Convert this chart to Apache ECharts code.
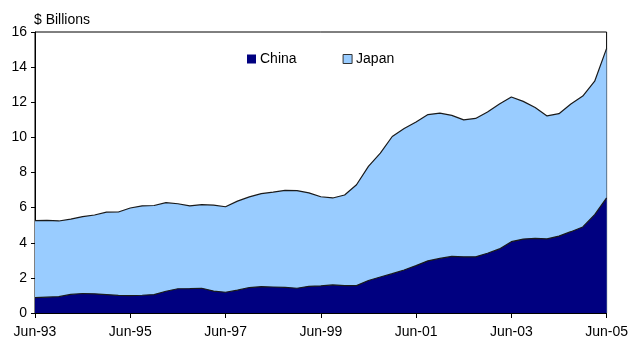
<!DOCTYPE html>
<html>
<head>
<meta charset="utf-8">
<script src="https://cdn.jsdelivr.net/npm/echarts@6/dist/echarts.min.js"></script>
<style>
  html, body { margin: 0; padding: 0; background: #fff; }
  #chart { width: 631px; height: 343px; }
</style>
</head>
<body>
<div id="chart"></div>
<script>
// Quarterly observations, Jun-93 through Jun-05
const periods = [
  'Jun-93','Sep-93','Dec-93','Mar-94','Jun-94','Sep-94','Dec-94','Mar-95',
  'Jun-95','Sep-95','Dec-95','Mar-96','Jun-96','Sep-96','Dec-96','Mar-97',
  'Jun-97','Sep-97','Dec-97','Mar-98','Jun-98','Sep-98','Dec-98','Mar-99',
  'Jun-99','Sep-99','Dec-99','Mar-00','Jun-00','Sep-00','Dec-00','Mar-01',
  'Jun-01','Sep-01','Dec-01','Mar-02','Jun-02','Sep-02','Dec-02','Mar-03',
  'Jun-03','Sep-03','Dec-03','Mar-04','Jun-04','Sep-04','Dec-04','Mar-05',
  'Jun-05'
];

// China ($ billions)
const china = [
  0.87, 0.90, 0.93, 1.06, 1.11, 1.09, 1.05, 1.00,
  0.99, 1.01, 1.05, 1.24, 1.38, 1.39, 1.41, 1.25,
  1.18, 1.30, 1.45, 1.50, 1.48, 1.46, 1.41, 1.52,
  1.54, 1.60, 1.56, 1.56, 1.85, 2.05, 2.24, 2.45,
  2.70, 2.97, 3.11, 3.22, 3.20, 3.20, 3.40, 3.65,
  4.06, 4.21, 4.25, 4.22, 4.38, 4.63, 4.90, 5.60,
  6.55
];

// Japan, drawn as the upper outline ($ billions)
const japan = [
  5.26, 5.27, 5.24, 5.35, 5.49, 5.58, 5.74, 5.75,
  5.98, 6.10, 6.12, 6.28, 6.22, 6.10, 6.17, 6.14,
  6.05, 6.37, 6.61, 6.80, 6.88, 6.98, 6.97, 6.84,
  6.62, 6.55, 6.72, 7.30, 8.35, 9.10, 10.05, 10.50,
  10.88, 11.30, 11.38, 11.25, 11.00, 11.08, 11.45, 11.90,
  12.30, 12.05, 11.70, 11.22, 11.35, 11.90, 12.35, 13.20,
  15.07
];

const FONT = '"Liberation Sans", Arial, sans-serif';

const chart = echarts.init(document.getElementById('chart'), null, { renderer: 'canvas' });

chart.setOption({
  animation: false,
  backgroundColor: '#ffffff',
  textStyle: { fontFamily: FONT },
  title: {
    text: '$ Billions',
    left: 29,
    top: 8,
    textStyle: { fontFamily: FONT, fontSize: 14, fontWeight: 'normal', color: '#000' }
  },
  legend: {
    top: 47,
    left: 242,
    itemGap: 46,
    itemWidth: 9,
    itemHeight: 9,
    icon: 'rect',
    textStyle: { fontFamily: FONT, fontSize: 14, color: '#000', padding: [0, 0, 0, -1] },
    data: [
      { name: 'China', itemStyle: { color: '#000080', borderWidth: 0 } },
      { name: 'Japan', itemStyle: { color: '#99CCFF', borderColor: '#333333', borderWidth: 1 } }
    ]
  },
  grid: {
    left: 35,
    right: 24,
    top: 32,
    bottom: 30,
    show: true,
    borderColor: '#000',
    borderWidth: 1,
    backgroundColor: 'transparent'
  },
  xAxis: {
    type: 'category',
    data: periods,
    boundaryGap: false,
    axisLine: { lineStyle: { color: '#000', width: 1 } },
    axisTick: { show: true, interval: 7, length: 5, lineStyle: { color: '#000' } },
    axisLabel: { interval: 7, fontFamily: FONT, fontSize: 14, color: '#000', margin: 12 },
    splitLine: { show: false }
  },
  yAxis: {
    type: 'value',
    min: 0,
    max: 16,
    interval: 2,
    axisLine: { show: true, lineStyle: { color: '#000', width: 1 } },
    axisTick: { show: true, length: 4, lineStyle: { color: '#000' } },
    axisLabel: { fontFamily: FONT, fontSize: 14, color: '#000', margin: 8 },
    splitLine: { show: false }
  },
  series: [
    {
      name: 'Japan',
      type: 'line',
      data: japan,
      showSymbol: false,
      z: 1,
      lineStyle: { color: '#1a1a1a', width: 1.2 },
      itemStyle: { color: '#99CCFF' },
      areaStyle: { color: '#99CCFF', opacity: 1 }
    },
    {
      name: 'China',
      type: 'line',
      data: china,
      showSymbol: false,
      z: 2,
      lineStyle: { color: '#1a1a1a', width: 1.2 },
      itemStyle: { color: '#000080' },
      areaStyle: { color: '#000080', opacity: 1 }
    }
  ]
});
</script>
</body>
</html>
